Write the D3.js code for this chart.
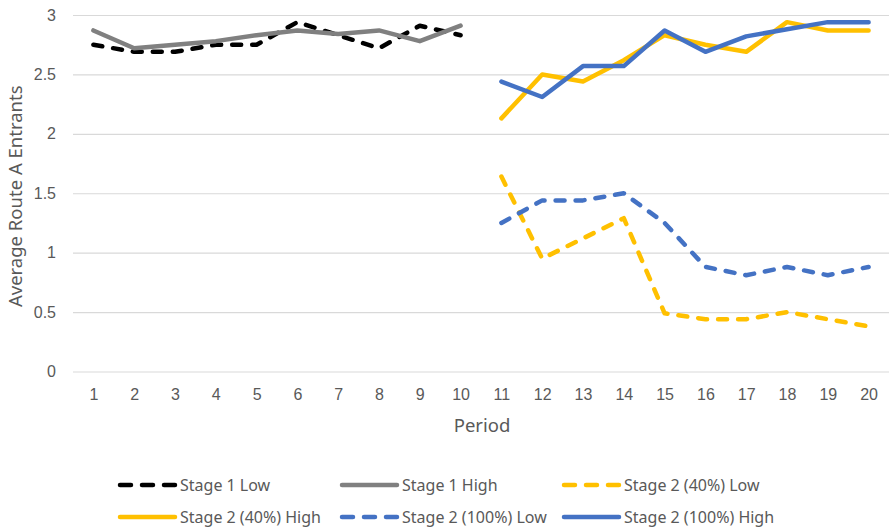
<!DOCTYPE html>
<html>
<head>
<meta charset="utf-8">
<script src="https://cdn.jsdelivr.net/npm/d3@7/dist/d3.min.js"></script>
<style>
  html, body { margin: 0; padding: 0; background: #fff; }
  svg { display: block; font-family: "Noto Sans", "Open Sans", sans-serif; }
</style>
</head>
<body>
<svg id="chart" width="889" height="530"></svg>
<script>
// Periods on the category axis
const periods = [1,2,3,4,5,6,7,8,9,10,11,12,13,14,15,16,17,18,19,20];
const stage1Periods = [1,2,3,4,5,6,7,8,9,10];
const stage2Periods = [11,12,13,14,15,16,17,18,19,20];

// Average Route A entrants per period
const stage1Low  = [2.75, 2.69, 2.69, 2.75, 2.75, 2.94, 2.83, 2.72, 2.91, 2.83];
const stage1High = [2.87, 2.72, 2.75, 2.78, 2.83, 2.87, 2.84, 2.87, 2.78, 2.91];
const stage2Low40   = [1.64, 0.95, 1.12, 1.29, 0.49, 0.44, 0.44, 0.50, 0.44, 0.38];
const stage2High40  = [2.13, 2.50, 2.44, 2.62, 2.83, 2.75, 2.69, 2.94, 2.87, 2.87];
const stage2Low100  = [1.25, 1.44, 1.44, 1.50, 1.25, 0.88, 0.81, 0.88, 0.81, 0.88];
const stage2High100 = [2.44, 2.31, 2.57, 2.57, 2.87, 2.69, 2.82, 2.88, 2.94, 2.94];

const yTicks = [0, 0.5, 1, 1.5, 2, 2.5, 3];
const yTickLabels = ["0", "0.5", "1", "1.5", "2", "2.5", "3"];

const seriesNames = ["Stage 1 Low", "Stage 1 High", "Stage 2 (40%) Low",
                     "Stage 2 (40%) High", "Stage 2 (100%) Low", "Stage 2 (100%) High"];
const seriesColors = ["#000000", "#808080", "#FFC000", "#FFC000", "#4472C4", "#4472C4"];
const seriesDashed = [true, false, true, false, true, false];
const seriesX = [stage1Periods, stage1Periods, stage2Periods, stage2Periods, stage2Periods, stage2Periods];
const seriesY = [stage1Low, stage1High, stage2Low40, stage2High40, stage2Low100, stage2High100];

const svg = d3.select("#chart");
const plot = { left: 73, right: 889, top: 15, bottom: 371.5 };
const textColor = "#595959";
const dash = "9,11";
const lineW = 4.5;

const x = d3.scalePoint().domain(periods).range([plot.left, plot.right]).padding(0.5);
const y = d3.scaleLinear().domain([0, 3]).range([plot.bottom, plot.top]);

// Horizontal gridlines with value labels
const yAxis = d3.axisLeft(y).tickValues(yTicks)
  .tickFormat((d, i) => yTickLabels[i])
  .tickSize(-(plot.right - plot.left)).tickPadding(17);
const gy = svg.append("g").attr("transform", `translate(${plot.left},0)`).call(yAxis);
gy.select(".domain").remove();
gy.selectAll(".tick line").attr("stroke", "#d9d9d9").attr("stroke-width", 1.2);
gy.selectAll(".tick text").attr("fill", textColor).style("font-size", "16px");

// Category axis labels (no line)
const xAxis = d3.axisBottom(x).tickSize(0).tickPadding(17);
const gx = svg.append("g").attr("transform", `translate(0,${plot.bottom})`).call(xAxis);
gx.select(".domain").remove();
gx.selectAll(".tick text").attr("fill", textColor).style("font-size", "16px");

// Axis titles
svg.append("text").attr("x", (plot.left + plot.right) / 2 + 1).attr("y", 432)
  .attr("text-anchor", "middle").attr("fill", textColor).style("font-size", "18.5px")
  .text("Period");
svg.append("text").attr("transform", `translate(22,${(plot.top + plot.bottom) / 2 + 3}) rotate(-90)`)
  .attr("text-anchor", "middle").attr("fill", textColor).style("font-size", "18.5px")
  .text("Average Route A Entrants");

// Series lines
const line = d3.line().x(d => x(d[0])).y(d => y(d[1]));
seriesNames.forEach((name, i) => {
  const pts = seriesX[i].map((p, j) => [p, seriesY[i][j]]);
  svg.append("path").datum(pts)
    .attr("d", line)
    .attr("fill", "none")
    .attr("stroke", seriesColors[i])
    .attr("stroke-width", lineW)
    .attr("stroke-linejoin", "round")
    .attr("stroke-linecap", "round")
    .attr("stroke-dasharray", seriesDashed[i] ? dash : null);
});

// Legend: two rows of three entries
const legendCols = [118, 340, 562];
const legendRows = [485, 517];
seriesNames.forEach((name, i) => {
  const lx = legendCols[i % 3];
  const ly = legendRows[Math.floor(i / 3)];
  const g = svg.append("g").attr("transform", `translate(${lx},${ly})`);
  g.append("line").attr("x1", 2).attr("x2", 57).attr("y1", 0).attr("y2", 0)
    .attr("stroke", seriesColors[i]).attr("stroke-width", lineW)
    .attr("stroke-linecap", "round")
    .attr("stroke-dasharray", seriesDashed[i] ? "11,11" : null);
  g.append("text").attr("x", 62).attr("y", 0).attr("dy", "0.35em")
    .attr("fill", textColor).style("font-size", "16px").text(name);
});
</script>
</body>
</html>
